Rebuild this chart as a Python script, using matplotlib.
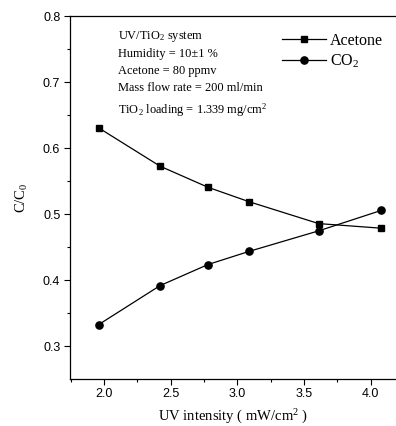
import matplotlib
matplotlib.use("Agg")
import matplotlib.pyplot as plt
from matplotlib.ticker import MultipleLocator, FormatStrFormatter

plt.rcParams['mathtext.fontset'] = 'custom'
plt.rcParams['mathtext.rm'] = 'Liberation Serif'
plt.rcParams['mathtext.it'] = 'Liberation Serif:italic'

# data
uv = [1.96, 2.42, 2.78, 3.09, 3.61, 4.08]
acetone = [0.631, 0.573, 0.541, 0.519, 0.486, 0.479]
co2 = [0.333, 0.392, 0.424, 0.444, 0.475, 0.506]

notes = [
    "UV/TiO$_2$ system",
    "Humidity = 10\u00b11 %",
    "Acetone = 80 ppmv",
    "Mass flow rate = 200 ml/min",
    "TiO$_2$ loading = 1.339 mg/cm$^2$",
]

serif = "Liberation Serif"
sans = "Liberation Sans"

fig = plt.figure(figsize=(3.96, 4.26), dpi=100)
ax = fig.add_axes([0.1768, 0.111, 0.8232, 0.8507])

ax.plot(uv, acetone, color='black', lw=0.9, marker='s', ms=4.3, label='Acetone')
ax.plot(uv, co2, color='black', lw=0.9, marker='o', ms=5.2, label='CO$_2$')

ax.set_xlim(1.745, 4.19)
ax.set_ylim(0.251, 0.8)
ax.xaxis.set_major_locator(MultipleLocator(0.5))
ax.xaxis.set_minor_locator(MultipleLocator(0.25))
ax.yaxis.set_major_locator(MultipleLocator(0.1))
ax.yaxis.set_minor_locator(MultipleLocator(0.05))
ax.xaxis.set_major_formatter(FormatStrFormatter('%.1f'))
ax.spines['right'].set_visible(False)
for s in ['left', 'bottom', 'top']:
    ax.spines[s].set_linewidth(0.9)
ax.tick_params(which='major', direction='out', length=4, width=0.8, labelsize=9, pad=3)
ax.tick_params(which='minor', direction='out', length=2.5, width=0.8)
for lab in ax.get_xticklabels() + ax.get_yticklabels():
    lab.set_family(sans)

ax.set_xlabel("UV intensity ( mW/cm$^2$ )", family=serif, fontsize=10.5, labelpad=5)
ax.set_ylabel("C/C$_0$", family=serif, fontsize=10.5, labelpad=9)

ys = [37, 54, 71, 88, 110]
for t, yp in zip(notes, ys):
    fig.text(118 / 396, 1 - yp / 426, t, family=serif, fontsize=8.9, va='center', ha='left')

leg = ax.legend(loc='upper left', bbox_to_anchor=(0.605, 0.995), frameon=False,
                prop={'family': serif, 'size': 11.5}, handlelength=2.8,
                handletextpad=0.25, labelspacing=0.25)

fig.savefig("out.png", dpi=100)
